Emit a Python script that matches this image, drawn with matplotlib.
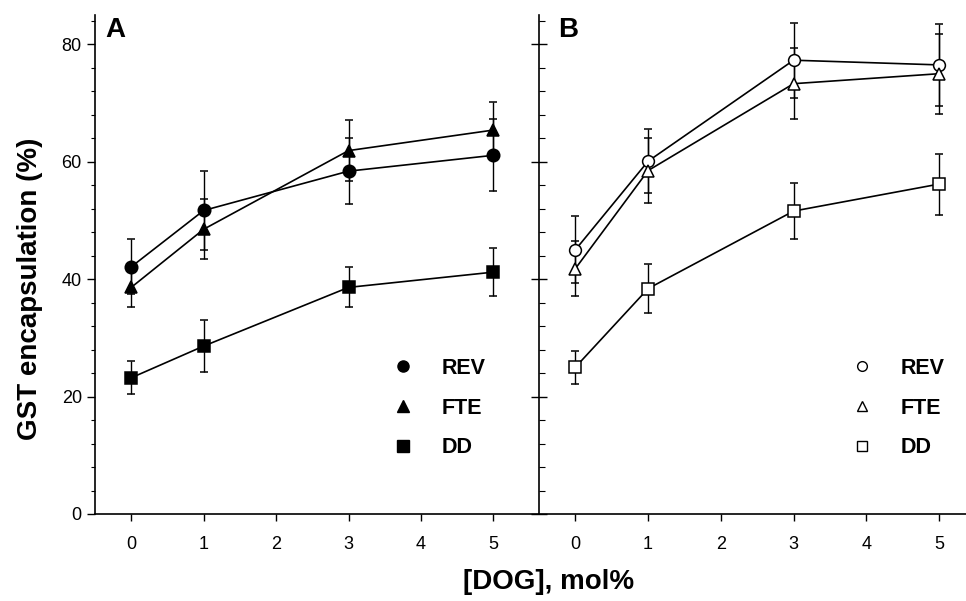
import matplotlib
matplotlib.use('Agg')
import matplotlib.pyplot as plt
from matplotlib.lines import Line2D
from matplotlib.ticker import MultipleLocator

plt.rcParams['font.family'] = ['Liberation Sans', 'DejaVu Sans']

# Dados
dog = [0, 1, 3, 5]
labels = ['REV', 'FTE', 'DD']

# Painel A (símbolos cheios)
a_rev = [42.1, 51.7, 58.4, 61.1]
a_rev_err = [4.7, 6.7, 5.6, 6.1]
a_fte = [38.6, 48.5, 61.9, 65.4]
a_fte_err = [3.4, 5.1, 5.2, 4.8]
a_dd = [23.2, 28.6, 38.6, 41.2]
a_dd_err = [2.8, 4.4, 3.4, 4.1]

# Painel B (símbolos vazios)
b_rev = [45.0, 60.1, 77.3, 76.5]
b_rev_err = [5.7, 5.4, 6.4, 7.0]
b_fte = [41.8, 58.5, 73.3, 75.0]
b_fte_err = [4.7, 5.6, 6.1, 6.8]
b_dd = [25.0, 38.4, 51.6, 56.2]
b_dd_err = [2.8, 4.2, 4.8, 5.2]

markers = ['o', '^', 's']

fig = plt.figure(figsize=(9.66, 6.01), dpi=100)
axA = fig.add_axes([95 / 966, 87 / 601, 444 / 966, 499 / 601])
axB = fig.add_axes([539 / 966, 87 / 601, 427 / 966, 499 / 601])


def desenha(ax, series, erros, filled, xlim, leg_x):
    for y, e, m in zip(series, erros, markers):
        ax.errorbar(dog, y, yerr=e, color='black', marker=m, markersize=9 if filled else 8.5,
                    markerfacecolor='black' if filled else 'white', markeredgecolor='black',
                    markeredgewidth=1.1, linewidth=1.2, elinewidth=1.0, capsize=2.6, capthick=1.0)
    ax.set_xlim(*xlim)
    ax.set_ylim(0, 85)
    ax.set_xticks(range(6))
    ax.yaxis.set_major_locator(MultipleLocator(20))
    ax.yaxis.set_minor_locator(MultipleLocator(4))
    ax.spines['top'].set_visible(False)
    ax.spines['right'].set_visible(False)
    for s in ['left', 'bottom']:
        ax.spines[s].set_linewidth(1.2)
    ax.tick_params(axis='x', length=5, width=1, labelsize=13, pad=11)
    # legenda só com os símbolos
    handles = [Line2D([], [], linestyle='none', marker=m, color='black',
                      markerfacecolor='black' if filled else 'white', markersize=8 if filled else 7)
               for m in markers]
    ax.legend(handles, labels, frameon=False, loc='lower left',
              bbox_to_anchor=(leg_x, 0.094), handletextpad=0.8, labelspacing=0.87,
              borderaxespad=0, prop={'weight': 'bold', 'size': 15.5})


desenha(axA, [a_rev, a_fte, a_dd], [a_rev_err, a_fte_err, a_dd_err], True, (-0.5, 5.63), 0.626)
desenha(axB, [b_rev, b_fte, b_dd], [b_rev_err, b_fte_err, b_dd_err], False, (-0.5, 5.37), 0.686)

axA.tick_params(axis='y', which='major', length=6, width=1, labelsize=13)
axA.tick_params(axis='y', which='minor', length=3, width=0.8)
axB.tick_params(axis='y', which='major', direction='inout', length=12, width=1, labelleft=False)
axB.tick_params(axis='y', which='minor', direction='in', length=4, width=0.8)

axA.text(0.024, 0.995, 'A', transform=axA.transAxes, fontsize=20, weight='bold', va='top')
axB.text(0.045, 0.995, 'B', transform=axB.transAxes, fontsize=20, weight='bold', va='top')

fig.text(0.031, 0.52, 'GST encapsulation (%)', rotation=90, fontsize=20, weight='bold',
         ha='center', va='center')
fig.text(0.568, 0.032, '[DOG], mol%', fontsize=20, weight='bold', ha='center', va='center')

plt.savefig('out.png', dpi=100)
